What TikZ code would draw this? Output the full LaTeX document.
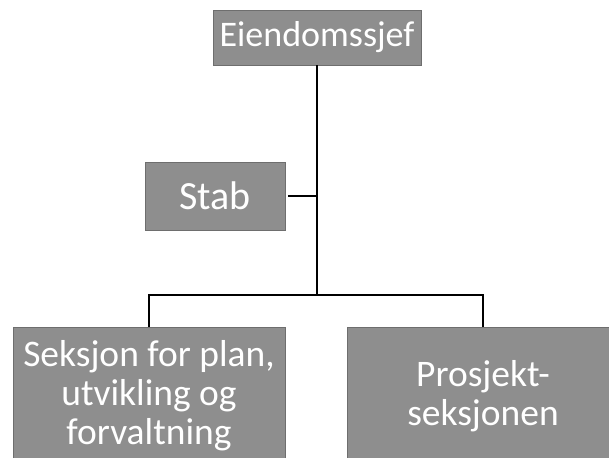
\documentclass[tikz,border=0pt]{standalone}
\usepackage{fontspec}
\setmainfont{Carlito}
\usepackage{xcolor}
\usetikzlibrary{positioning}
\definecolor{boxgray}{RGB}{142,142,142}
\definecolor{boxedge}{RGB}{110,110,110}

\begin{document}
\begin{tikzpicture}[x=1pt,y=-1pt,
    orgbox/.style={draw=boxedge,fill=boxgray,text=white,inner sep=0pt,
      font=\fontsize{37.5}{39}\selectfont,align=center},
    link/.style={draw=black,line width=1.4pt}]
  \clip (0,0) rectangle (609,457);
  \useasboundingbox (0,0) rectangle (609,457);

  % boxes
  \node[orgbox,minimum width=208pt,minimum height=55pt,
        font=\fontsize{36}{38}\selectfont] (chief) at (317,37.5) {Eiendomssjef};
  \node[orgbox,minimum width=140pt,minimum height=68pt,
        font=\fontsize{40}{42}\selectfont] (stab) at (215,196) {Stab};
  \node[orgbox,minimum width=272pt,minimum height=138pt] (plan) at (149,396)
    {Seksjon for plan,\\utvikling og\\forvaltning};
  \node[orgbox,minimum width=272pt,minimum height=138pt] (proj) at (483,396)
    {Prosjekt-\\seksjonen};

  % connectors
  \coordinate (bus) at (317,295);
  \draw[link] (chief.south) -- (bus);
  \draw[link] ([xshift=3pt]stab.east) -- (stab.east -| bus);
  \draw[link] (plan.north) -- (plan.north |- bus) -- (proj.north |- bus) -- (proj.north);
\end{tikzpicture}
\end{document}
